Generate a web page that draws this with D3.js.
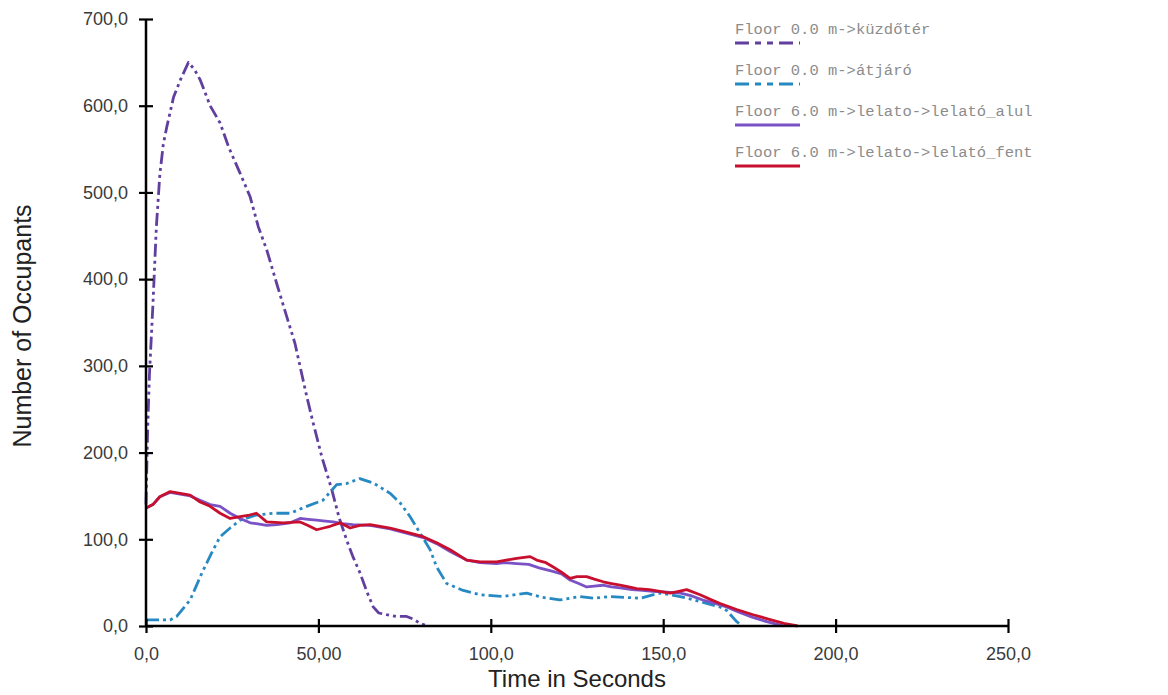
<!DOCTYPE html>
<html><head><meta charset="utf-8">
<script src="https://cdn.jsdelivr.net/npm/d3@7"></script>
<style>
html,body{margin:0;padding:0;background:#fff;}
svg{display:block;}
</style></head>
<body>
<svg id="chart" width="1168" height="695"></svg>
<script>
// ---- data (time in seconds, number of occupants) ----
const kuzdoterData = [[0,140],[0.5,230],[1,290],[2,370],[3,460],[4,520],[5,555],[6,575],[8,610],[10,630],[12.3,650],[14,642],[15.7,630],[18.6,600],[21.5,580],[23.9,553],[27.3,522],[30.2,495],[32.6,460],[35,434],[37.9,395],[40.8,357],[43.2,326],[46.6,265],[48.5,234],[51,195],[53.9,157],[56,125],[58.2,99],[60,80],[62.1,61],[64,40],[65.9,22],[67.5,15],[69.8,13],[72.5,11],[75.6,11],[77.5,8],[79.5,3],[81,1],[82,0]];
const atjaroData = [[0,7],[3,7],[7,7],[8.9,11],[12.8,30],[16.2,61],[19,84],[21.5,103],[24.4,113],[27.3,122],[32,128],[36.9,130],[41.8,130],[46.6,138],[51.3,145],[55.3,163],[58,164],[62,170],[65.9,165],[70.8,153],[73.7,142],[76.6,126],[79.5,107],[82.4,88],[84.3,68],[87.2,49],[92,41],[96.9,36],[103.6,34],[110.4,38],[115,33],[120,30],[125.9,34],[130,32],[134.6,34],[139,33],[143.3,32],[149,38],[154.9,34],[159,30],[162.6,26],[166.5,22],[168.4,18],[171.3,5],[173,0]];
const alulData = [[0,136],[2,140],[4,149],[7,154],[9.9,152],[12.8,150],[15.7,145],[18.6,140],[21.5,138],[24.4,130],[27.3,124],[30.2,119],[32,118],[35,116],[38,117],[41.8,119],[44.7,124],[47,123],[49.5,122],[52,121],[54.3,120],[57,118],[60,117],[65,116],[70.8,112],[76.6,106],[80.4,102],[84.3,95],[88.2,86],[93,76],[96.9,73],[101.7,72],[104,73],[107.5,72],[111,71],[114,67],[118,63],[120.5,60],[123,53],[125.5,49],[127.8,45],[130,46],[132.5,47],[135,45],[137.5,44],[141,42],[144,41],[147,40],[151,39],[155,38],[158,35],[161.5,30],[165,26],[168.4,22],[172,16],[176,10],[180,5],[185,0]];
const fentData = [[0,136],[2,140],[4,149],[7,155],[9.9,153],[12.8,151],[15.7,143],[18.6,138],[21.5,130],[24.4,124],[27.3,126],[30,128],[32,130],[35,120],[39.8,119],[44.7,120],[47,116],[49.5,111],[51.5,113],[53.4,115],[56.3,119],[59.2,113],[62,116],[65,117],[70.8,113],[76.6,107],[80.4,103],[84.3,96],[88.2,88],[93,76],[96.9,74],[101.7,74],[104.5,76],[107.5,78],[111.4,80],[113.3,76],[116,73],[118.1,68],[120.5,62],[123,55],[125,57],[127.8,57],[130,54],[132.6,51],[135,49],[137.5,47],[140,45],[142.3,43],[146,42],[149,40],[152,38],[154.5,40],[156.8,42],[160.7,36],[163.5,31],[166.5,26],[171.3,19],[176.1,13],[180.5,8],[185,3],[189,0]];

const seriesNames = ["Floor 0.0 m->küzdőtér","Floor 0.0 m->átjáró","Floor 6.0 m->lelato->lelató_alul","Floor 6.0 m->lelato->lelató_fent"];
const xTicks = [0,50,100,150,200,250];
const xTickLabels = ["0,0","50,00","100,0","150,0","200,0","250,0"];
const yTicks = [0,100,200,300,400,500,600,700];
const yTickLabels = ["0,0","100,0","200,0","300,0","400,0","500,0","600,0","700,0"];

const series = [
  {name: seriesNames[0], data: kuzdoterData, color: "#603f9f", dash: "13,4,3,4,3,4"},
  {name: seriesNames[1], data: atjaroData,   color: "#2789c2", dash: "13,4,3,4,3,4"},
  {name: seriesNames[2], data: alulData,     color: "#7a52c6", dash: null},
  {name: seriesNames[3], data: fentData,     color: "#c8102e", dash: null}
];

const svg = d3.select("#chart");
const x = d3.scaleLinear().domain([0,250]).range([146,1008]);
const y = d3.scaleLinear().domain([0,700]).range([626,19]);

// lines
const line = d3.line().x(d => x(d[0])).y(d => y(d[1]));
svg.append("g").selectAll("path").data(series).join("path")
  .attr("d", d => line(d.data))
  .attr("fill","none")
  .attr("stroke", d => d.color)
  .attr("stroke-width", 2.8)
  .attr("stroke-linejoin","round")
  .attr("stroke-dasharray", d => d.dash);

// axes
const xAxis = d3.axisBottom(x).tickValues(xTicks).tickFormat((d,i) => xTickLabels[i]).tickSize(7).tickPadding(14);
const yAxis = d3.axisLeft(y).tickValues(yTicks).tickFormat((d,i) => yTickLabels[i]).tickSize(7).tickPadding(11);

const gx = svg.append("g").attr("transform","translate(0,626)").call(xAxis);
const gy = svg.append("g").attr("transform","translate(146,0)").call(yAxis);
[gx, gy].forEach(g => {
  g.select(".domain").attr("stroke","#000").attr("stroke-width",2.5);
  g.selectAll(".tick line").attr("stroke","#000").attr("stroke-width",2.2);
  g.selectAll(".tick text").attr("fill","#3a3a3a").style("font-family","'Liberation Sans', Arial, sans-serif").style("font-size","18px");
});
gx.select(".domain").attr("d", `M${x(0)},0H${x(250)}`);
gy.select(".domain").attr("d", `M0,${y(700)}V${y(0)}`);
gx.selectAll(".tick line").attr("y1",-7).attr("y2",7);
gy.selectAll(".tick line").attr("x1",7).attr("x2",-7);

// axis titles
svg.append("text").attr("x",577).attr("y",687).attr("text-anchor","middle")
  .style("font-family","'Liberation Sans', Arial, sans-serif").style("font-size","24px").attr("fill","#222")
  .text("Time in Seconds");
svg.append("text").attr("transform","translate(31,326) rotate(-90)").attr("text-anchor","middle")
  .style("font-family","'Liberation Sans', Arial, sans-serif").style("font-size","25px").attr("fill","#222")
  .text("Number of Occupants");

// legend
const leg = svg.append("g").attr("transform","translate(735,0)");
series.forEach((s,i) => {
  const by = 34 + i*41;
  leg.append("text").attr("x",0).attr("y",by)
    .style("font-family","'Courier New','Liberation Mono',monospace").style("font-size","15.5px")
    .attr("fill","#8c8c8c").text(s.name);
  leg.append("line").attr("x1",0).attr("x2",65).attr("y1",by+9).attr("y2",by+9)
    .attr("stroke", s.color).attr("stroke-width",3)
    .attr("stroke-dasharray", s.dash ? "14,6,6,6,6,6" : null);
});
</script>
</body></html>
